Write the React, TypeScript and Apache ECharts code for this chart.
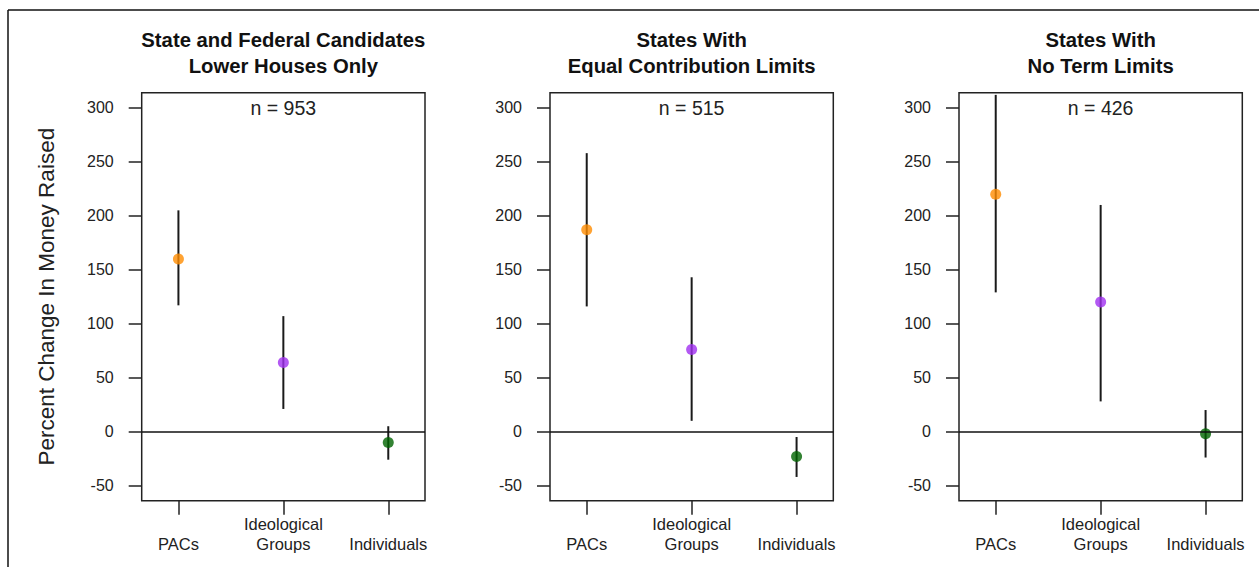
import React, { useEffect, useRef } from "react";
import * as echarts from "echarts";

const categories = ["PACs", "Ideological\nGroups", "Individuals"];
const catPositions = [1, 2, 3];
const pointColors = ["#FF8C00", "#A030F0", "#006400"];
const yTicks = [-50, 0, 50, 100, 150, 200, 250, 300];

const panelTitles = [
  "State and Federal Candidates\nLower Houses Only",
  "States With\nEqual Contribution Limits",
  "States With\nNo Term Limits",
];
const panelN = ["n = 953", "n = 515", "n = 426"];

const est1 = [160, 64, -10];
const lo1 = [117, 21, -26];
const hi1 = [205, 107, 5];

const est2 = [187, 76, -23];
const lo2 = [116, 10, -42];
const hi2 = [258, 143, -5];

const est3 = [220, 120, -2];
const lo3 = [129, 28, -24];
const hi3 = [312, 210, 20];

const estimates = [est1, est2, est3];
const lowers = [lo1, lo2, lo3];
const uppers = [hi1, hi2, hi3];

const FONT = "'Liberation Sans', Arial, sans-serif";
const gridLefts = [141.7, 550, 959];
const gridTop = 92.7;
const gridW = 283.3;
const gridH = 408;

export default function App() {
  const ref = useRef<HTMLDivElement>(null);
  useEffect(() => {
    document.body.style.margin = "0";
    if (!ref.current) return;
    const chart = echarts.init(ref.current, null, { renderer: "svg" });

    const grids = gridLefts.map((l) => ({
      left: l,
      top: gridTop,
      width: gridW,
      height: gridH,
      show: true,
      borderColor: "#222",
      borderWidth: 1.5,
      backgroundColor: "transparent",
    }));

    const xAxes = gridLefts.map((_, i) => ({
      type: "value",
      gridIndex: i,
      min: 0.65,
      max: 3.35,
      position: "bottom",
      axisLine: { show: false, onZero: false },
      splitLine: { show: false },
      axisTick: {
        show: true,
        customValues: catPositions,
        length: 14,
        lineStyle: { color: "#222", width: 1.5 },
      },
      axisLabel: {
        show: true,
        customValues: catPositions,
        formatter: (v: number) => {
          const c = categories[catPositions.indexOf(Math.round(v))] || "";
          return c.indexOf("\n") >= 0 ? c : "\n" + c;
        },
        margin: 13,
        fontFamily: FONT,
        fontSize: 16.5,
        lineHeight: 20,
        color: "#222",
      },
    }));

    const yAxes = gridLefts.map((_, i) => ({
      type: "value",
      gridIndex: i,
      min: -64,
      max: 314,
      axisLine: { show: false, onZero: false },
      splitLine: { show: false },
      axisTick: {
        show: true,
        customValues: yTicks,
        length: 13,
        lineStyle: { color: "#222", width: 1.5 },
      },
      axisLabel: {
        show: true,
        customValues: yTicks,
        margin: 28,
        fontFamily: FONT,
        fontSize: 16,
        color: "#222",
      },
      name: i === 0 ? "Percent Change In Money Raised" : "",
      nameLocation: "middle",
      nameRotate: 90,
      nameGap: 84,
      nameTextStyle: { fontFamily: FONT, fontSize: 22.5, color: "#222" },
    }));

    const series: any[] = [];
    gridLefts.forEach((_, i) => {
      series.push({
        type: "custom",
        xAxisIndex: i,
        yAxisIndex: i,
        data: catPositions.map((x, j) => [x, lowers[i][j], uppers[i][j]]),
        encode: { x: 0, y: [1, 2] },
        renderItem: (params: any, api: any) => {
          const x = api.value(0);
          const p1 = api.coord([x, api.value(1)]);
          const p2 = api.coord([x, api.value(2)]);
          return {
            type: "line",
            shape: { x1: p1[0], y1: p1[1], x2: p2[0], y2: p2[1] },
            style: { stroke: "#1a1a1a", lineWidth: 2 },
          };
        },
        z: 2,
      });
      series.push({
        type: "scatter",
        xAxisIndex: i,
        yAxisIndex: i,
        symbol: "circle",
        symbolSize: 11,
        data: catPositions.map((x, j) => ({
          value: [x, estimates[i][j]],
          itemStyle: { color: pointColors[j] },
        })),
        z: 3,
        markLine: {
          silent: true,
          symbol: ["none", "none"],
          label: { show: false },
          lineStyle: { color: "#111", type: "solid", width: 1.5 },
          data: [{ yAxis: 0 }],
        },
      });
    });

    const graphics: any[] = [
      {
        type: "line",
        shape: { x1: 8, y1: 10, x2: 8, y2: 567 },
        style: { stroke: "#111", lineWidth: 1.5 },
      },
      {
        type: "line",
        shape: { x1: 8, y1: 10, x2: 1259, y2: 10 },
        style: { stroke: "#111", lineWidth: 1.5 },
      },
    ];
    gridLefts.forEach((l, i) => {
      const cx = l + gridW / 2;
      const lines = panelTitles[i].split("\n");
      lines.forEach((t, k) => {
        graphics.push({
          type: "text",
          x: cx,
          y: 40 + k * 26,
          style: {
            text: t,
            textAlign: "center",
            textVerticalAlign: "middle",
            fontFamily: FONT,
            fontWeight: "bold",
            fontSize: 20.3,
            fill: "#111",
          },
        });
      });
      graphics.push({
        type: "text",
        x: cx,
        y: 108,
        style: {
          text: panelN[i],
          textAlign: "center",
          textVerticalAlign: "middle",
          fontFamily: FONT,
          fontSize: 19.5,
          fill: "#222",
        },
      });
    });

    chart.setOption({
      animation: false,
      backgroundColor: "#fff",
      grid: grids,
      xAxis: xAxes,
      yAxis: yAxes,
      series,
      graphic: graphics,
    });
    return () => chart.dispose();
  }, []);
  return <div ref={ref} style={{ width: 1259, height: 567 }} />;
}
